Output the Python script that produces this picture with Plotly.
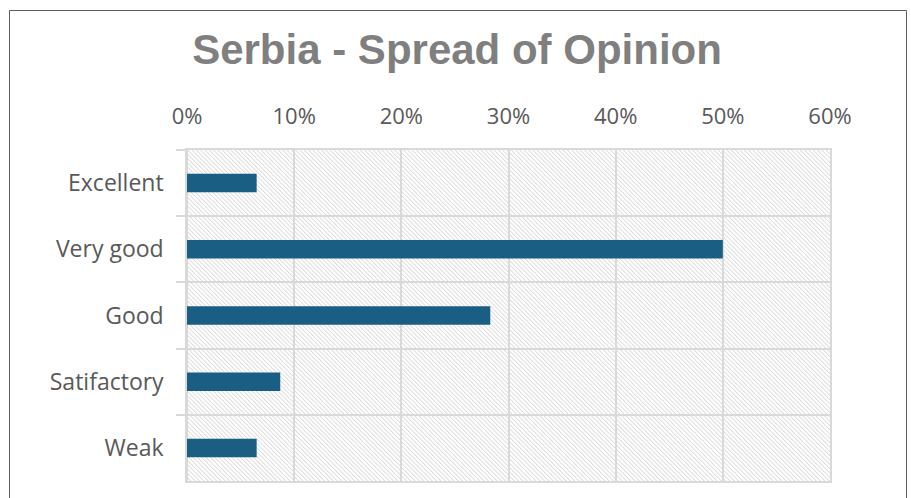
import base64
import plotly.graph_objects as go

# Survey results: share of responses per rating
categories = ["Excellent", "Very good", "Good", "Satifactory", "Weak"]
shares = [0.065, 0.50, 0.283, 0.087, 0.065]
x_ticks = [0, 0.1, 0.2, 0.3, 0.4, 0.5, 0.6]
x_tick_labels = ["0%", "10%", "20%", "30%", "40%", "50%", "60%"]

W, H = 911, 498
L, R, T, B = 187, 81, 150, 17
PW, PH = W - L - R, H - T - B

BAR = "#1a5e84"
GRID = "#d9d9d9"
LABEL = "#595959"

# Diagonal hatch used as the plot-area background (drawn under the gridlines)
hatch_svg = (
    f"<svg xmlns='http://www.w3.org/2000/svg' width='{PW}' height='{PH}' "
    f"viewBox='0 0 {PW} {PH}' preserveAspectRatio='none'>"
    "<defs><pattern id='h' width='3.05' height='3.05' patternUnits='userSpaceOnUse' "
    "patternTransform='rotate(-45)'>"
    "<line x1='0.5' y1='0' x2='0.5' y2='3.05' stroke='#d6d6d6' stroke-width='0.85'/>"
    "</pattern></defs>"
    f"<rect width='{PW}' height='{PH}' fill='white'/>"
    f"<rect width='{PW}' height='{PH}' fill='url(#h)'/></svg>"
)
hatch_uri = "data:image/svg+xml;base64," + base64.b64encode(hatch_svg.encode()).decode()

fig = go.Figure(
    go.Bar(
        x=shares,
        y=categories,
        orientation="h",
        width=0.28,
        marker=dict(color=BAR, line=dict(width=0)),
        hoverinfo="skip",
    )
)

fig.update_layout(
    width=W,
    height=H,
    margin=dict(l=L, r=R, t=T, b=B, pad=0),
    paper_bgcolor="white",
    plot_bgcolor="white",
    showlegend=False,
    title=dict(
        text="<b>Serbia - Spread of Opinion</b>",
        font=dict(family="Liberation Sans", size=42, color="#7f7f7f"),
        x=457 / W,
        xanchor="center",
        xref="container",
        y=1 - 49 / H,
        yanchor="middle",
        yref="container",
    ),
    font=dict(family="Open Sans", color=LABEL),
    images=[
        dict(
            source=hatch_uri,
            xref="paper", yref="paper",
            x=0, y=1, sizex=1, sizey=1,
            xanchor="left", yanchor="top",
            sizing="stretch",
            layer="below",
        )
    ],
    shapes=[
        # chart frame
        dict(
            type="rect",
            xref="paper", yref="paper",
            x0=(9.5 - L) / PW, x1=(906.5 - L) / PW,
            y0=-40 / PH, y1=(H - B - 10.5) / PH,
            line=dict(color="#5e5e5e", width=1),
            fillcolor="rgba(0,0,0,0)",
            layer="above",
        )
    ],
)

fig.update_xaxes(
    side="top",
    range=[0, 0.6],
    tickvals=x_ticks,
    ticktext=x_tick_labels,
    showgrid=True,
    gridcolor=GRID,
    gridwidth=1.5,
    zeroline=True,
    zerolinecolor=GRID,
    zerolinewidth=1.5,
    showline=True,
    mirror=True,
    linecolor=GRID,
    linewidth=1.5,
    ticks="",
    ticklabelstandoff=15,
    tickfont=dict(family="Open Sans", size=22, color=LABEL),
    fixedrange=True,
)

fig.update_yaxes(
    type="category",
    categoryorder="array",
    categoryarray=categories,
    autorange="reversed",
    tickson="boundaries",
    ticks="outside",
    ticklen=9,
    tickwidth=1.5,
    tickcolor=GRID,
    showgrid=True,
    gridcolor=GRID,
    gridwidth=1.5,
    showline=True,
    mirror=True,
    linecolor=GRID,
    linewidth=1.5,
    ticklabelstandoff=17,
    tickfont=dict(family="Open Sans", size=23, color=LABEL),
    fixedrange=True,
)

fig.write_html("out.html")
